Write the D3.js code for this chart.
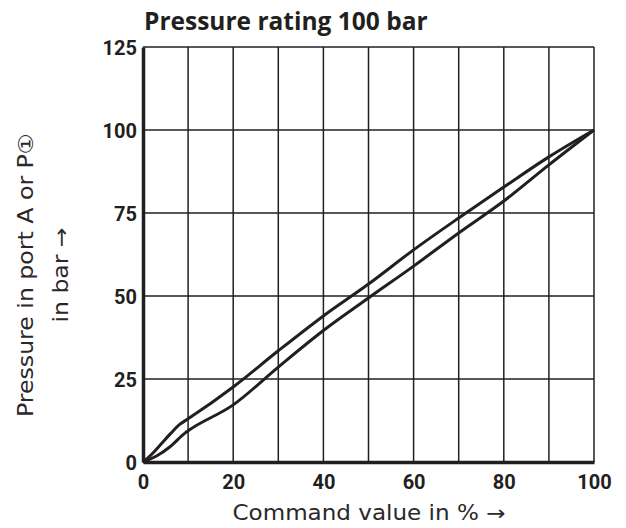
<!DOCTYPE html>
<html>
<head>
<meta charset="utf-8">
<script src="https://cdn.jsdelivr.net/npm/d3@7"></script>
<style>
  body { margin: 0; background: #fff; }
  svg { display: block; font-family: "Open Sans", "Noto Sans", sans-serif; }
  .tick-label { font-family: Roboto, sans-serif; font-weight: 700; font-size: 20px; fill: #231f20; }
  .axis-title { font-family: "DejaVu Sans", sans-serif; font-size: 20.5px; fill: #2b2829; }
</style>
</head>
<body>
<svg id="chart"></svg>
<script>
// command value (%) vs. pressure (bar)
const upperX = [0, 2, 4, 6, 8.2, 10, 20, 30, 40, 50, 60, 70, 80, 90, 100];
const upperY = [0, 2.4, 5.4, 8.4, 11.4, 13, 22.6, 33.5, 44, 53.6, 63.9, 73.5, 82.8, 91.9, 100];
const lowerX = [0, 3, 6, 9.3, 10, 20, 30, 40, 50, 60, 70, 80, 90, 100];
const lowerY = [0, 1.8, 4.6, 8.7, 9.4, 17.2, 28.6, 39.6, 49.4, 59, 69, 78.6, 89.5, 100];
const xTicks = [0, 20, 40, 60, 80, 100];
const yTicks = [0, 25, 50, 75, 100, 125];
const xGrid = [10, 20, 30, 40, 50, 60, 70, 80, 90, 100];
const yGrid = [25, 50, 75, 100, 125];

const W = 626, H = 528;
const margin = { top: 47, right: 32, bottom: 66, left: 143 };
const width = W - margin.left - margin.right;
const height = H - margin.top - margin.bottom;
const ink = '#231f20';

const svg = d3.select('#chart').attr('width', W).attr('height', H);
const g = svg.append('g').attr('transform', `translate(${margin.left},${margin.top})`);

const x = d3.scaleLinear().domain([0, 100]).range([0, width]);
const y = d3.scaleLinear().domain([0, 125]).range([height, 0]);

// grid
g.selectAll('.vgrid').data(xGrid).enter().append('line')
  .attr('x1', d => x(d)).attr('x2', d => x(d))
  .attr('y1', 0).attr('y2', height)
  .attr('stroke', ink).attr('stroke-width', 1.5);
g.selectAll('.hgrid').data(yGrid).enter().append('line')
  .attr('x1', 0).attr('x2', width)
  .attr('y1', d => y(d)).attr('y2', d => y(d))
  .attr('stroke', ink).attr('stroke-width', 1.5);

// axes
const xAxis = d3.axisBottom(x).tickValues(xTicks).tickSize(0).tickPadding(8);
const yAxis = d3.axisLeft(y).tickValues(yTicks).tickSize(0).tickPadding(6);
const xg = g.append('g').attr('transform', `translate(0,${height})`).call(xAxis);
const yg = g.append('g').call(yAxis);
[xg, yg].forEach(a => {
  a.select('.domain').attr('stroke', ink).attr('stroke-width', 3.5);
  a.selectAll('text').attr('class', 'tick-label').attr('fill', ink);
});
xg.selectAll('text').attr('dy', '0.95em');
yg.selectAll('text').attr('dy', '0.35em');

// curves
const line = d3.line().x(d => x(d[0])).y(d => y(d[1])).curve(d3.curveMonotoneX);
const upper = upperX.map((v, i) => [v, upperY[i]]);
const lower = lowerX.map((v, i) => [v, lowerY[i]]);
[upper, lower].forEach(pts => {
  g.append('path').datum(pts).attr('d', line)
    .attr('fill', 'none').attr('stroke', ink).attr('stroke-width', 3)
    .attr('stroke-linejoin', 'round');
});

// titles
svg.append('text').attr('x', 144).attr('y', 30)
  .style('font-size', '24.5px').style('font-weight', 700).attr('fill', ink)
  .text('Pressure rating 100 bar');

svg.append('text').attr('class', 'axis-title')
  .attr('x', 369).attr('y', 520)
  .attr('text-anchor', 'middle')
  .attr('textLength', 273).attr('lengthAdjust', 'spacingAndGlyphs')
  .text('Command value in % →');

const yt = svg.append('text').attr('class', 'axis-title')
  .attr('transform', 'translate(0,275) rotate(-90)')
  .attr('text-anchor', 'middle');
yt.append('tspan').attr('x', 0).attr('y', 33)
  .attr('textLength', 284).attr('lengthAdjust', 'spacingAndGlyphs')
  .text('Pressure in port A or P①');
yt.append('tspan').attr('x', 0).attr('y', 68)
  .attr('textLength', 95).attr('lengthAdjust', 'spacingAndGlyphs')
  .text('in bar →');
</script>
</body>
</html>
